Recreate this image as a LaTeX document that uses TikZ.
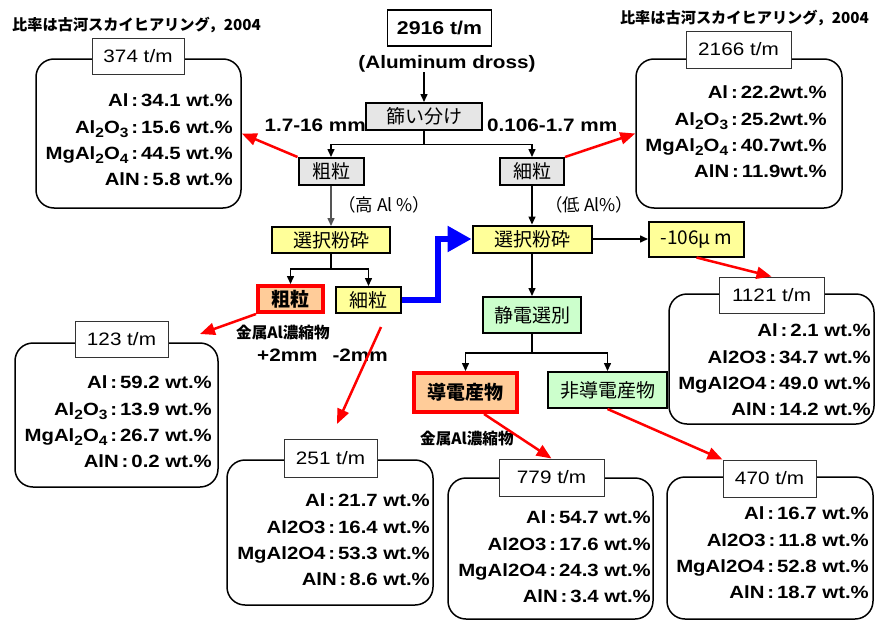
\documentclass[tikz,border=0pt]{standalone}
\usepackage{fontspec}
\setmainfont{Liberation Sans}[FakeStretch=1.15]
\newfontfamily\jp{Noto Sans CJK JP}
\usetikzlibrary{arrows.meta}
\definecolor{grayf}{RGB}{230,230,230}
\definecolor{yel}{RGB}{255,255,153}
\definecolor{grn}{RGB}{204,255,204}
\definecolor{pch}{RGB}{255,204,153}
\definecolor{dgray}{RGB}{85,85,85}
\newcommand\sbs[1]{\smash{\raisebox{-4.5pt}{\fontsize{13.5}{14}\selectfont #1}}}
\begin{document}
\begin{tikzpicture}[x=1pt,y=-1pt,
  proc/.style={draw, line width=2pt, inner sep=0pt, font=\fontsize{19}{20}\selectfont\jp},
  hot/.style={draw=red, line width=4pt, fill=pch, inner sep=0pt, font=\fontsize{19}{20}\selectfont\jp\bfseries},
  info/.style={draw, line width=1.5pt, rounded corners=18pt, inner sep=0pt},
  lbl/.style={draw=black!80, line width=1pt, fill=white, inner sep=0pt, font=\fontsize{18}{20}\selectfont},
  vals/.style={align=right, inner sep=0pt, anchor=north east, font=\fontsize{17.7}{26.3}\selectfont\bfseries},
  arr/.style={-{Triangle[length=8pt,width=7pt]}, line width=1.5pt},
  rarr/.style={-{Triangle[length=15pt,width=12pt]}, red, line width=2.5pt},
  note/.style={inner sep=0pt, font=\fontsize{15.2}{16}\selectfont\jp\bfseries},
  metal/.style={inner sep=0pt, font=\fontsize{15.6}{16}\selectfont\jp\bfseries},
  bold/.style={inner sep=0pt, font=\fontsize{18}{20}\selectfont\bfseries},
]
\useasboundingbox (0,0) rectangle (875,621);

% sources
\node[note, anchor=west] (srcL) at (12,25) {比率は古河スカイヒアリング，2004};
\node[note, anchor=east] (srcR) at (869,18) {比率は古河スカイヒアリング，2004};

% top
\node[draw, line width=1.5pt, minimum width=104pt, minimum height=36pt, inner sep=0pt, font=\fontsize{18.5}{20}\selectfont\bfseries] (total) at (439.5,28) {2916 t/m};
\node[bold] (dross) at (447,64) {(Aluminum dross)};
\coordinate (dr) at (424,72);

% process boxes
\node[proc, fill=grayf, minimum width=116pt, minimum height=27pt] (sieve) at (424,116.5) {篩い分け};
\node[proc, fill=grayf, minimum width=65pt, minimum height=27pt] (coarse1) at (331,171.5) {粗粒};
\node[proc, fill=grayf, minimum width=64pt, minimum height=27pt] (fine1) at (532,171.5) {細粒};
\node[proc, fill=yel, minimum width=118pt, minimum height=26pt] (selL) at (331,240) {選択粉砕};
\node[proc, fill=yel, minimum width=119pt, minimum height=27pt] (selR) at (532,239) {選択粉砕};
\node[proc, fill=yel, minimum width=95pt, minimum height=35pt] (m106) at (696.5,239) {-106μ m};
\node[hot, minimum width=65pt, minimum height=26pt] (coarse2) at (290.5,299) {粗粒};
\node[proc, fill=yel, minimum width=65pt, minimum height=26pt] (fine2) at (368.5,300) {細粒};
\node[proc, fill=grn, minimum width=98pt, minimum height=36pt] (elec) at (532,315) {静電選別};
\node[hot, minimum width=103pt, minimum height=39pt] (cond) at (465.5,392.5) {導電産物};
\node[proc, fill=grn, minimum width=119pt, minimum height=36pt] (ncond) at (607.5,390) {非導電産物};

% labels
\node[bold, anchor=east] (szL) at (366,125) {1.7-16 mm};
\node[bold, anchor=west] (szR) at (487,125) {0.106-1.7 mm};
\node[inner sep=0pt, anchor=west, font=\fontsize{17.5}{20}\selectfont\jp] (hiAl) at (338,205) {（高 Al \%）};
\node[inner sep=0pt, anchor=west, font=\fontsize{17.5}{20}\selectfont\jp] (loAl) at (545,205) {（低 Al\%）};
\node[metal, anchor=west] (metal1) at (236,333) {金属Al濃縮物};
\node[bold, anchor=west] (pm) at (257,355) {+2mm\hspace{15pt}-2mm};
\node[metal, anchor=west] (metal2) at (420,439) {金属Al濃縮物};

% connectors
\draw[arr] (dr) -- (sieve.north);
\draw[arr] (sieve.south) -- ++(0,13.5) -| (coarse1.north);
\draw[arr] (sieve.south) -- ++(0,13.5) -| (fine1.north);
\draw[arr, color=dgray] (coarse1.south) -- (selL.north);
\draw[arr] (fine1.south) -- (selR.north);
\draw[arr] (selL.south) -- ++(0,15) -| (coarse2.north);
\draw[arr] (selL.south) -- ++(0,15) -| (fine2.north);
\draw[line width=5.5pt, blue, -{Triangle[length=24pt,width=25pt]}] (fine2.east) -- ++(36,0) |- (selR.west);
\draw[arr] (selR.east) -- (m106.west);
\draw[arr] (selR.south) -- (elec.north);
\draw[arr] (elec.south) -- ++(0,19) -| (cond.north);
\draw[arr] (elec.south) -- ++(0,19) -| (ncond.north);

% info boxes
\node[info, minimum width=205pt, minimum height=149pt] (boxA) at (138.5,133.5) {};
\node[lbl, minimum width=92pt, minimum height=36pt] (labA) at (138,56) {374 t/m};
\node[vals] (valA) at (233,93.7) {Al\,:\,34.1 wt.\%\\Al\sbs{2}O\sbs{3}\,:\,15.6 wt.\%\\MgAl\sbs{2}O\sbs{4}\,:\,44.5 wt.\%\\AlN\,:\,5.8 wt.\%};

\node[info, minimum width=206pt, minimum height=149pt] (boxB) at (739,133.5) {};
\node[lbl, minimum width=105pt, minimum height=37pt] (labB) at (738.5,49.5) {2166 t/m};
\node[vals] (valB) at (827,85.7) {Al\,:\,22.2wt.\%\\Al\sbs{2}O\sbs{3}\,:\,25.2wt.\%\\MgAl\sbs{2}O\sbs{4}\,:\,40.7wt.\%\\AlN\,:\,11.9wt.\%};

\node[info, minimum width=205pt, minimum height=130pt] (boxC) at (771.5,359) {};
\node[lbl, minimum width=105pt, minimum height=36pt] (labC) at (771.5,295) {1121 t/m};
\node[vals] (valC) at (871,323.7) {Al\,:\,2.1 wt.\%\\Al2O3\,:\,34.7 wt.\%\\MgAl2O4\,:\,49.0 wt.\%\\AlN\,:\,14.2 wt.\%};

\node[info, minimum width=203pt, minimum height=144pt] (boxD) at (116.5,415) {};
\node[lbl, minimum width=93pt, minimum height=36pt] (labD) at (121.5,339) {123 t/m};
\node[vals] (valD) at (212,375.7) {Al\,:\,59.2 wt.\%\\Al\sbs{2}O\sbs{3}\,:\,13.9 wt.\%\\MgAl\sbs{2}O\sbs{4}\,:\,26.7 wt.\%\\AlN\,:\,0.2 wt.\%};

\node[info, minimum width=206pt, minimum height=145pt] (boxE) at (330,532.5) {};
\node[lbl, minimum width=93pt, minimum height=38pt] (labE) at (330.5,458) {251 t/m};
\node[vals] (valE) at (430,493.7) {Al\,:\,21.7 wt.\%\\Al2O3\,:\,16.4 wt.\%\\MgAl2O4\,:\,53.3 wt.\%\\AlN\,:\,8.6 wt.\%};

\node[info, minimum width=205pt, minimum height=141pt] (boxF) at (550.5,548.5) {};
\node[lbl, minimum width=105pt, minimum height=37pt] (labF) at (551.5,477.5) {779 t/m};
\node[vals] (valF) at (651,510.7) {Al\,:\,54.7 wt.\%\\Al2O3\,:\,17.6 wt.\%\\MgAl2O4\,:\,24.3 wt.\%\\AlN\,:\,3.4 wt.\%};

\node[info, minimum width=206pt, minimum height=142pt] (boxG) at (770,548) {};
\node[lbl, minimum width=93pt, minimum height=37pt] (labG) at (769.5,478.5) {470 t/m};
\node[vals] (valG) at (869,506.7) {Al\,:\,16.7 wt.\%\\Al2O3\,:\,11.8 wt.\%\\MgAl2O4\,:\,52.8 wt.\%\\AlN\,:\,18.7 wt.\%};

% red arrows
\coordinate (tD) at (200,334);
\coordinate (sE) at (381,327);
\coordinate (tE) at (337,424);
\coordinate (sF) at (484,414);
\draw[rarr] (coarse1.north west) -- (boxA.east);
\draw[rarr] (fine1.north east) -- (boxB.west);
\draw[rarr] (m106.south) -- (labC.north);
\draw[rarr] (coarse2.south west) -- (tD);
\draw[rarr] (sE) -- (tE);
\draw[rarr] (sF) -- (labF.north);
\draw[rarr] (ncond.south) -- (labG.north west);
\end{tikzpicture}
\end{document}
